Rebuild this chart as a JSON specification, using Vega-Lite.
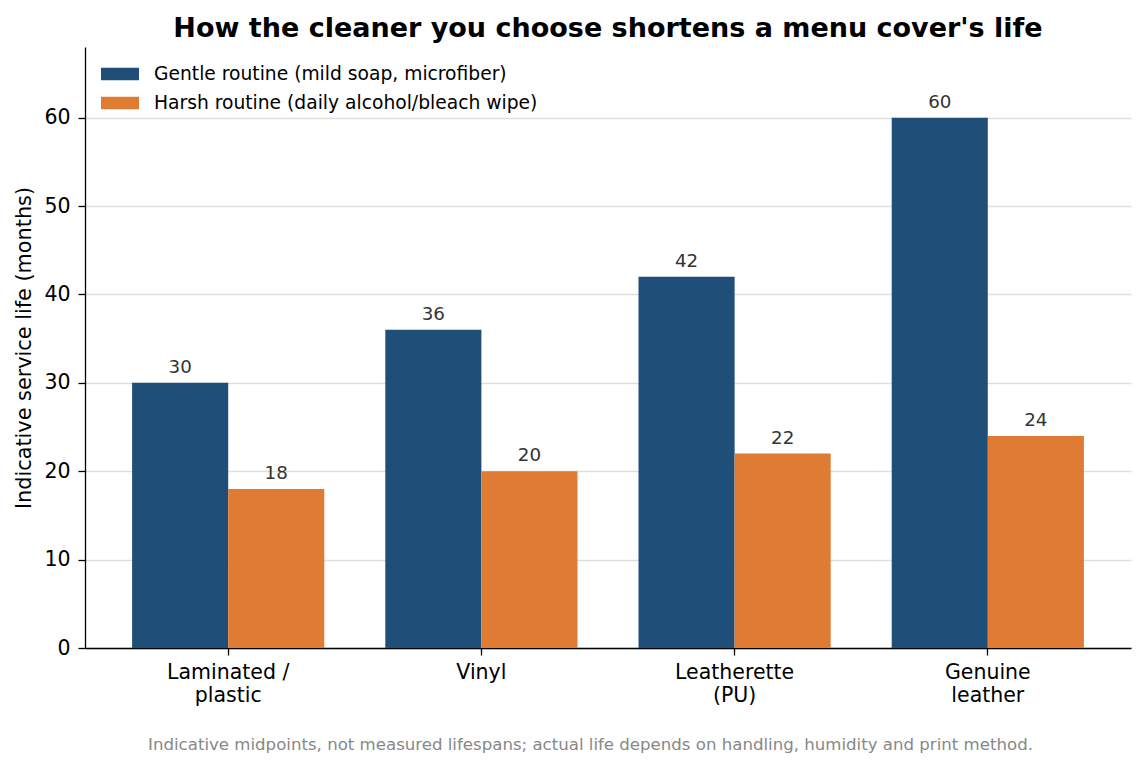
{
  "$schema": "https://vega.github.io/schema/vega-lite/v6.json",
  "autosize": {"type": "none"},
  "padding": {"left": 85, "top": 47, "right": 14, "bottom": 120},
  "width": 1046,
  "height": 601,
  "background": "white",
  "title": {
    "text": "How the cleaner you choose shortens a menu cover's life",
    "font": "DejaVu Sans",
    "fontSize": 27,
    "fontWeight": "bold",
    "color": "black",
    "anchor": "middle",
    "offset": 4
  },
  "data": {
    "values": [
      {"material": "Laminated /|plastic", "routine": "Gentle routine (mild soap, microfiber)", "months": 30},
      {"material": "Laminated /|plastic", "routine": "Harsh routine (daily alcohol/bleach wipe)", "months": 18},
      {"material": "Vinyl", "routine": "Gentle routine (mild soap, microfiber)", "months": 36},
      {"material": "Vinyl", "routine": "Harsh routine (daily alcohol/bleach wipe)", "months": 20},
      {"material": "Leatherette|(PU)", "routine": "Gentle routine (mild soap, microfiber)", "months": 42},
      {"material": "Leatherette|(PU)", "routine": "Harsh routine (daily alcohol/bleach wipe)", "months": 22},
      {"material": "Genuine|leather", "routine": "Gentle routine (mild soap, microfiber)", "months": 60},
      {"material": "Genuine|leather", "routine": "Harsh routine (daily alcohol/bleach wipe)", "months": 24}
    ]
  },
  "encoding": {
    "x": {
      "field": "material",
      "type": "nominal",
      "sort": null,
      "scale": {"paddingInner": 0.241, "paddingOuter": 0.186},
      "axis": {
        "title": "Indicative midpoints, not measured lifespans; actual life depends on handling, humidity and print method.",
        "titleFont": "DejaVu Sans",
        "titleFontSize": 16.6,
        "titleFontWeight": "normal",
        "titleColor": "#888888",
        "titleX": 505,
        "titleY": 96,
        "titleAlign": "center",
        "titleBaseline": "middle",
        "titleLimit": 1100,
        "labelExpr": "split(datum.label, '|')",
        "labelAngle": 0,
        "labelFont": "DejaVu Sans",
        "labelFontSize": 20.5,
        "labelColor": "black",
        "labelPadding": 7,
        "labelLineHeight": 23,
        "domainColor": "black",
        "domainWidth": 1.3,
        "tickColor": "black",
        "tickSize": 7,
        "tickWidth": 1.3,
        "grid": false
      }
    },
    "xOffset": {
      "field": "routine",
      "type": "nominal",
      "sort": null,
      "scale": {"paddingInner": 0, "paddingOuter": 0}
    },
    "y": {
      "field": "months",
      "type": "quantitative",
      "scale": {"domain": [0, 68], "nice": false},
      "axis": {
        "title": "Indicative service life (months)",
        "titleFont": "DejaVu Sans",
        "titleFontSize": 20.8,
        "titleFontWeight": "normal",
        "titleColor": "black",
        "titlePadding": 9,
        "values": [0, 10, 20, 30, 40, 50, 60],
        "labelFont": "DejaVu Sans",
        "labelFontSize": 20.5,
        "labelColor": "black",
        "labelPadding": 8,
        "domainColor": "black",
        "domainWidth": 1.3,
        "tickColor": "black",
        "tickSize": 7,
        "tickWidth": 1.3,
        "grid": true,
        "gridColor": "#dddddd",
        "gridWidth": 1.3
      }
    }
  },
  "layer": [
    {
      "mark": {"type": "bar"},
      "encoding": {
        "color": {
          "field": "routine",
          "type": "nominal",
          "sort": null,
          "scale": {"range": ["#1f4e79", "#e07b33"]},
          "legend": {
            "title": null,
            "orient": "none",
            "legendX": 16,
            "legendY": 8,
            "symbolType": "M-1,-0.33H1V0.33H-1Z",
            "symbolSize": 1444,
            "symbolStrokeWidth": 0,
            "symbolOpacity": 1,
            "labelFont": "DejaVu Sans",
            "labelFontSize": 18.7,
            "labelColor": "black",
            "labelOffset": 15,
            "labelLimit": 600,
            "rowPadding": 0,
            "padding": 0
          }
        }
      }
    },
    {
      "mark": {
        "type": "text",
        "baseline": "bottom",
        "dy": -6,
        "font": "DejaVu Sans",
        "fontSize": 18.3,
        "color": "#333333"
      },
      "encoding": {
        "text": {"field": "months", "type": "quantitative"}
      }
    }
  ],
  "config": {
    "view": {"stroke": null}
  }
}
